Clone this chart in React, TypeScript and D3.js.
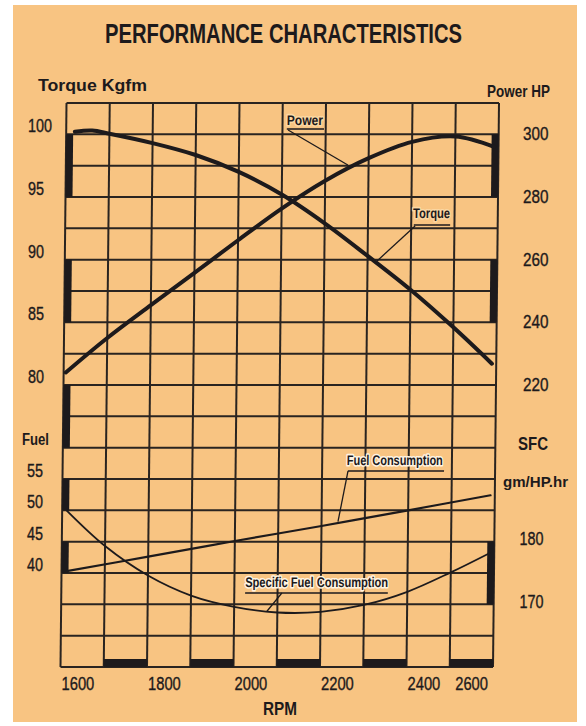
import React from 'react';
import * as d3 from 'd3';

// ---- data ----
const rpmGrid = [1600, 1700, 1800, 1900, 2000, 2100, 2200, 2300, 2400, 2500, 2600];
const rpmLabels = [1600, 1800, 2000, 2200, 2400, 2600];
const torqueTicks = [100, 95, 90, 85, 80];
const powerTicks = [300, 280, 260, 240, 220];
const fuelTicks = [55, 50, 45, 40];
const sfcTicks = [180, 170];

// [rpm, Kgfm]
const torque: [number, number][] = [
  [1620, 100.2], [1660, 100.3], [1700, 100.05], [1800, 99.3], [1900, 98.35], [2000, 97.0],
  [2100, 95.2], [2200, 92.9], [2300, 90.3], [2400, 87.6], [2500, 84.6], [2590, 81.7],
];
// [rpm, HP]
const power: [number, number][] = [
  [1605, 224.0], [1700, 235.0], [1800, 245.5], [1900, 255.8], [2000, 266.2], [2100, 276.3],
  [2200, 285.2], [2300, 292.4], [2400, 297.6], [2500, 299.3], [2590, 296.0],
];
// [rpm, fuel]
const fuel: [number, number][] = [
  [1612, 40.3], [1800, 42.6], [2000, 45.1], [2200, 47.5], [2400, 50.0], [2590, 52.4],
];
// [rpm, gm/HP.hr]
const sfc: [number, number][] = [
  [1610, 185.0], [1700, 179.3], [1800, 174.6], [1900, 171.4], [2000, 169.6], [2100, 168.7],
  [2200, 168.8], [2300, 169.9], [2400, 172.0], [2500, 175.1], [2590, 178.2],
];

// black edge bars (grid rows / rpm spans)
const leftBars: [number, number][] = [[1, 3], [5, 7], [9, 11], [12, 13], [14, 15]];
const rightBars: [number, number][] = [[1, 3], [5, 7], [14, 16]];
const bottomBars: [number, number][] = [[1700, 1800], [1900, 2000], [2100, 2200], [2300, 2400], [2500, 2600]];

type Ann = {
  text: string; axis: 'T' | 'P' | 'F' | 'S'; at: [number, number]; len: number;
  ul: [number, number, number]; leader: [[number, number], [number, number]]; halo: string;
};
const annotations: Ann[] = [
  { text: 'Power', axis: 'P', at: [2110, 302.98], len: 36, ul: [2110, 2196, 301.7], leader: [[2113, 301.4], [2252, 290.2]], halo: '#fbd7a2' },
  { text: 'Torque', axis: 'T', at: [2404, 93.32], len: 37, ul: [2406, 2490, 92.76], leader: [[2409, 92.68], [2322, 89.9]], halo: '#fbd7a2' },
  { text: 'Fuel Consumption', axis: 'F', at: [2257, 57.23], len: 96, ul: [2260, 2482, 56.28], leader: [[2260, 56.28], [2238, 48.2]], halo: '#fff4e2' },
  { text: 'Specific Fuel Consumption', axis: 'S', at: [2025, 172.77], len: 143, ul: [2025, 2355, 171.81], leader: [[2110, 171.81], [2076, 168.9]], halo: '#fff4e2' },
];

const SANS = "'Liberation Sans', Arial, Helvetica, sans-serif";
const INK = '#1d1a1c';
const GRID = '#2a2420';
const PAPER = '#f8c482';

function Num({ x, y, v, anchor = 'start', per = 8, size = 17.5 }:
  { x: number; y: number; v: number; anchor?: string; per?: number; size?: number }) {
  const s = String(v);
  return (
    <text x={x} y={y} textAnchor={anchor} fontFamily={SANS} fontSize={size} fill={INK}
      stroke={INK} strokeWidth={0.35} textLength={per * s.length} lengthAdjust="spacingAndGlyphs">{s}</text>
  );
}

export default function App() {
  const W = 586, H = 726;
  const top = 103, bottom = 667;
  const x = d3.scaleLinear().domain([1600, 2600]).range([66.5, 499]);
  const row = d3.scaleLinear().domain([0, 18]).range([top, bottom]);
  const yT = d3.scaleLinear().domain([80, 100]).range([row(9), row(1)]);
  const yP = d3.scaleLinear().domain([220, 300]).range([row(9), row(1)]);
  const yF = d3.scaleLinear().domain([40, 55]).range([row(15), row(12)]);
  const yS = d3.scaleLinear().domain([170, 180]).range([row(16), row(14)]);
  const scales = { T: yT, P: yP, F: yF, S: yS };
  const mk = (ys: d3.ScaleLinear<number, number>) =>
    d3.line<[number, number]>().x(d => x(d[0])).y(d => ys(d[1])).curve(d3.curveCatmullRom.alpha(0.5));

  const skew = (Math.atan(-6 / (bottom - top)) * 180) / Math.PI;
  const skewT = `translate(0,${top}) skewX(${skew}) translate(0,${-top})`;
  const x0 = x(1600), x1 = x(2600);

  return (
    <svg width={W} height={H} style={{ position: 'absolute', left: 0, top: 0, display: 'block' }}>
      <rect x={0} y={0} width={W} height={H} fill="#ffffff" />
      <rect x={13} y={5} width={564} height={717} fill={PAPER} />

      <text x={105} y={43} fontFamily={SANS} fontWeight="bold" fontSize={28} fill={INK}
        textLength={357} lengthAdjust="spacingAndGlyphs">PERFORMANCE CHARACTERISTICS</text>

      <text x={38} y={91} fontFamily={SANS} fontWeight="bold" fontSize={16.5} fill={INK}
        textLength={109} lengthAdjust="spacingAndGlyphs">Torque Kgfm</text>
      <text x={487} y={97} fontFamily={SANS} fontWeight="bold" fontSize={16.5} fill={INK}
        textLength={63} lengthAdjust="spacingAndGlyphs">Power HP</text>

      {torqueTicks.map(v => <Num key={'t' + v} x={28} y={yT(v) - 2} v={v} />)}
      <text x={22} y={445} fontFamily={SANS} fontWeight="bold" fontSize={16} fill={INK}
        textLength={27} lengthAdjust="spacingAndGlyphs">Fuel</text>
      {fuelTicks.map(v => <Num key={'f' + v} x={27} y={yF(v) - 2} v={v} />)}
      {powerTicks.map(v => <Num key={'p' + v} x={523} y={yP(v) + 6} v={v} per={8.5} />)}
      <text x={533} y={450} textAnchor="middle" fontFamily={SANS} fontWeight="bold" fontSize={17.5} fill={INK}
        textLength={30} lengthAdjust="spacingAndGlyphs">SFC</text>
      <text x={535.5} y={487} textAnchor="middle" fontFamily={SANS} fontWeight="bold" fontSize={15.5} fill={INK}
        textLength={65} lengthAdjust="spacingAndGlyphs">gm/HP.hr</text>
      {sfcTicks.map(v => <Num key={'s' + v} x={531.5} y={yS(v) + 3.5} v={v} anchor="middle" />)}

      {rpmLabels.map(v => (
        <Num key={'r' + v} x={v === 2600 ? x(v) - 11 : x(v) - 5} y={690} v={v}
          anchor={v === 2600 ? 'end' : 'start'} per={8.2} size={18} />
      ))}
      <text x={280} y={715} textAnchor="middle" fontFamily={SANS} fontWeight="bold" fontSize={17.5} fill={INK}
        textLength={34} lengthAdjust="spacingAndGlyphs">RPM</text>

      <g transform={skewT}>
        {/* grid */}
        {d3.range(19).map(k => (
          <line key={'h' + k} x1={x0} x2={x1} y1={row(k)} y2={row(k)} stroke={GRID} strokeWidth={2} />
        ))}
        {rpmGrid.map(r => (
          <line key={'v' + r} x1={x(r)} x2={x(r)} y1={top} y2={bottom} stroke={GRID} strokeWidth={2} />
        ))}
        {/* edge bars */}
        {leftBars.map(([a, b]) => (
          <rect key={'lb' + a} x={x0} y={row(a)} width={7} height={row(b) - row(a)} fill={INK} />
        ))}
        {rightBars.map(([a, b]) => (
          <rect key={'rb' + a} x={x1 - 7} y={row(a)} width={7} height={row(b) - row(a)} fill={INK} />
        ))}
        {bottomBars.map(([a, b]) => (
          <rect key={'bb' + a} x={x(a)} y={bottom - 8} width={x(b) - x(a)} height={8} fill={INK} />
        ))}

        {/* curves */}
        <path d={mk(yT)(torque) || ''} fill="none" stroke={INK} strokeWidth={4} strokeLinecap="round" />
        <path d={mk(yP)(power) || ''} fill="none" stroke={INK} strokeWidth={4} strokeLinecap="round" />
        <path d={mk(yF)(fuel) || ''} fill="none" stroke={INK} strokeWidth={2.2} strokeLinecap="round" />
        <path d={mk(yS)(sfc) || ''} fill="none" stroke={INK} strokeWidth={1.8} strokeLinecap="round" />

        {/* annotations */}
        {annotations.map(a => {
          const ys = scales[a.axis];
          return (
            <g key={a.text}>
              <text x={x(a.at[0])} y={ys(a.at[1])} fontFamily={SANS} fontWeight="bold" fontSize={14}
                fill={INK} stroke={a.halo} strokeWidth={3} paintOrder="stroke" strokeLinejoin="round"
                textLength={a.len} lengthAdjust="spacingAndGlyphs">{a.text}</text>
              <line x1={x(a.ul[0])} x2={x(a.ul[1])} y1={ys(a.ul[2])} y2={ys(a.ul[2])} stroke={INK} strokeWidth={1.6} />
              <line x1={x(a.leader[0][0])} y1={ys(a.leader[0][1])} x2={x(a.leader[1][0])} y2={ys(a.leader[1][1])}
                stroke={INK} strokeWidth={1.3} />
            </g>
          );
        })}
      </g>
    </svg>
  );
}
